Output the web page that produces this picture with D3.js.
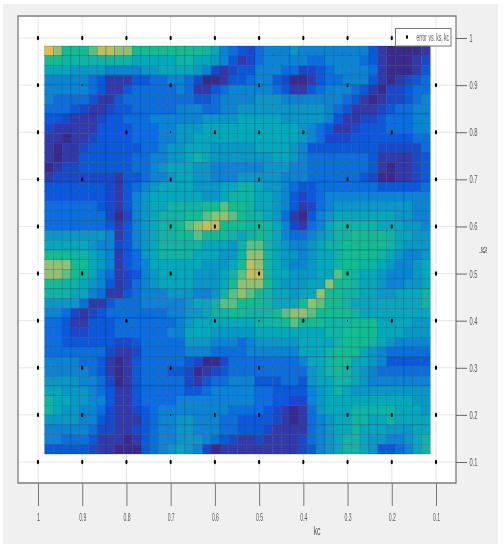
<!DOCTYPE html>
<html><head><meta charset="utf-8">
<script src="https://cdn.jsdelivr.net/npm/d3@7/dist/d3.min.js"></script>
<style>html,body{margin:0;padding:0;background:#fff;overflow:hidden}svg{display:block;filter:blur(.35px)}text{font-family:"Liberation Sans",Arial,sans-serif;fill:#555}</style>
</head><body><svg id="c" width="503" height="550"></svg>
<script>
const kcTicks=[1,0.9,0.8,0.7,0.6,0.5,0.4,0.3,0.2,0.1];
const ksTicks=[1,0.9,0.8,0.7,0.6,0.5,0.4,0.3,0.2,0.1];
const kcLabels=["1","0.9","0.8","0.7","0.6","0.5","0.4","0.3","0.2","0.1"];
const ksLabels=["1","0.9","0.8","0.7","0.6","0.5","0.4","0.3","0.2","0.1"];
// error level per cell, top row first, left column first
const errorGrid=[
[13,11,9,9,9,10,12,12,11,11,9,9,9,9,9,9,9,9,8,7,5,4,3,2,4,5,5,5,6,5,5,5,5,5,5,5,5,3,1,0,0,0,0,1],
[9,9,8,8,8,8,8,8,8,8,7,7,7,7,7,8,8,7,7,6,5,3,1,2,4,5,5,5,5,5,4,4,5,5,5,5,4,3,1,0,0,0,1,2],
[7,7,7,6,6,6,6,5,5,5,5,6,6,7,7,7,7,6,5,2,1,2,3,3,5,5,5,4,4,2,2,3,4,5,5,5,5,4,1,0,0,0,1,3],
[5,5,5,5,5,4,3,1,1,1,3,3,4,4,5,5,4,2,0,0,1,3,3,4,5,5,3,2,0,0,1,3,4,4,5,5,5,3,1,0,1,2,3,4],
[5,5,5,5,5,4,3,1,1,3,4,4,4,4,4,5,4,1,1,3,4,5,5,5,5,5,4,3,1,1,3,4,5,5,5,4,3,1,0,2,2,3,4,4],
[5,4,4,4,4,3,1,1,3,4,4,4,4,4,4,4,4,3,3,4,5,5,5,5,6,6,6,5,5,5,5,5,5,5,4,3,1,0,1,2,2,3,4,5],
[4,4,4,3,2,1,1,2,3,3,4,4,4,4,4,5,5,5,4,4,5,5,6,6,6,6,6,6,6,6,6,6,5,4,3,1,1,1,2,3,4,4,5,5],
[3,3,2,1,1,1,2,3,3,4,4,4,5,5,5,5,5,5,6,6,6,6,7,7,7,7,7,6,6,6,6,6,5,3,1,1,2,2,3,4,4,4,5,5],
[2,1,1,1,1,1,3,3,3,3,4,4,4,5,5,6,6,6,7,7,7,7,7,7,7,7,7,7,7,6,5,4,3,1,1,2,3,3,3,4,4,4,5,5],
[1,1,0,1,1,2,3,3,3,3,4,4,4,5,5,6,6,7,7,7,7,7,7,7,7,7,7,7,7,6,5,4,2,2,2,3,3,3,3,3,3,3,4,4],
[1,0,1,1,2,3,3,3,3,3,3,4,4,5,6,6,7,7,7,6,6,6,6,6,7,7,7,7,6,5,3,3,3,3,3,3,3,3,2,2,2,2,2,4],
[1,0,1,1,3,3,3,3,3,3,4,4,5,5,6,6,7,8,7,6,6,6,6,6,6,6,7,7,6,5,4,4,4,4,4,4,4,3,1,1,1,1,2,3],
[0,1,2,2,3,3,3,3,3,3,4,4,5,6,7,7,7,6,6,5,5,5,5,5,5,6,6,6,5,5,4,4,4,4,4,4,4,3,1,0,1,1,2,3],
[1,2,2,2,2,2,2,2,1,3,3,4,5,5,6,7,7,6,6,5,5,5,6,6,6,6,6,5,5,5,4,4,4,4,4,4,3,2,0,0,1,1,2,3],
[3,3,3,3,3,3,3,2,1,3,4,5,6,7,7,7,7,6,6,6,7,7,8,8,7,6,6,5,4,3,3,4,4,4,4,4,4,4,3,3,3,3,3,4],
[3,3,3,3,3,3,3,2,1,3,5,6,7,7,7,7,7,7,6,6,7,8,8,8,7,7,6,5,3,2,3,4,5,5,5,5,5,5,5,5,5,5,5,5],
[4,4,4,4,4,4,3,2,1,3,5,6,7,7,8,8,8,8,9,9,10,9,9,8,7,7,6,5,3,1,2,4,5,6,6,6,6,6,6,6,6,6,5,5],
[4,4,4,4,4,4,4,2,0,2,5,6,7,8,8,8,9,9,10,11,11,10,9,8,8,7,6,4,1,0,3,5,6,7,7,7,7,7,7,7,6,6,5,5],
[4,4,4,4,4,4,4,3,1,3,5,6,7,8,8,9,10,11,12,12,9,9,9,8,9,8,7,5,2,1,4,5,7,8,8,8,8,8,7,7,7,6,6,5],
[6,6,6,6,6,6,6,5,1,3,5,6,7,8,8,9,9,10,9,9,9,8,7,8,9,8,7,5,4,4,5,6,7,8,8,9,9,9,9,8,7,7,6,6],
[7,7,7,7,7,6,5,5,2,3,5,6,7,8,8,8,8,8,7,7,7,6,8,10,10,8,7,6,5,5,6,7,8,8,9,9,9,9,9,8,7,6,6,6],
[9,9,9,8,8,7,6,5,1,3,4,6,7,8,8,8,8,7,7,7,6,6,8,11,11,8,7,6,6,5,6,7,7,8,9,9,9,9,8,7,6,5,5,6],
[11,11,11,9,9,7,6,5,1,3,4,5,7,7,7,7,7,7,6,6,6,7,9,12,11,8,7,6,5,5,6,7,7,8,9,9,8,8,7,6,5,5,6,7],
[11,11,10,9,8,7,5,4,1,2,3,5,6,7,7,7,7,6,6,6,7,8,10,12,12,8,7,7,6,6,6,7,7,10,9,8,7,7,6,5,5,5,6,7],
[9,9,8,8,7,6,5,3,1,2,4,5,6,7,7,7,7,6,6,6,7,9,11,11,11,9,7,6,6,6,7,7,11,9,9,8,7,7,6,5,5,6,6,7],
[8,8,8,7,7,5,4,1,1,3,4,5,5,5,6,6,6,5,5,6,8,10,11,10,9,8,7,7,6,7,7,11,9,9,8,8,7,7,6,6,7,7,7,8],
[6,6,6,6,4,1,1,3,4,4,4,5,5,5,5,5,6,7,7,8,10,10,9,9,9,8,7,7,7,9,11,10,9,9,8,7,7,7,7,7,7,7,7,8],
[5,5,4,2,1,2,3,4,4,4,4,4,4,4,5,5,6,6,7,8,8,9,9,8,8,8,9,10,11,11,10,9,9,9,9,8,7,7,7,7,7,7,7,7],
[4,4,3,1,1,3,3,3,4,4,4,4,4,4,4,5,6,7,7,7,7,7,7,7,8,8,8,9,10,9,9,9,8,8,8,9,9,9,7,7,7,7,6,6],
[4,4,3,2,2,3,3,3,4,4,4,4,4,4,5,5,7,7,7,6,6,6,6,6,7,7,7,7,7,7,7,7,8,8,9,9,9,9,7,7,7,6,6,6],
[4,4,3,3,3,3,3,3,2,2,3,4,4,4,4,4,6,6,6,5,5,5,4,5,6,6,6,6,6,7,7,7,7,8,9,9,9,8,7,6,5,5,5,5],
[4,4,4,4,4,4,4,2,1,1,2,4,4,4,4,4,5,5,5,4,4,4,4,5,5,5,5,5,5,7,7,7,8,9,9,9,7,6,5,4,4,4,4,4],
[5,5,5,5,4,4,3,1,0,1,3,4,4,4,4,4,3,2,0,0,2,4,4,4,4,4,4,4,4,5,7,7,8,9,9,7,7,6,5,3,3,3,3,3],
[5,5,5,5,5,4,3,1,0,1,3,4,4,4,3,3,2,0,1,2,3,4,4,4,4,4,4,4,4,4,6,7,8,9,8,7,6,5,4,4,4,4,4,4],
[6,6,6,6,5,5,4,2,0,1,3,4,4,4,4,4,2,1,3,4,4,5,5,5,3,3,3,4,4,3,6,7,7,8,8,7,6,5,5,5,5,5,5,5],
[7,7,6,6,6,5,4,3,1,1,3,4,4,4,4,4,3,3,4,5,5,5,5,5,4,4,3,3,3,3,5,6,7,8,7,6,6,6,6,6,6,6,6,6],
[8,7,7,6,6,5,5,3,1,1,3,4,4,4,4,5,5,5,5,5,5,5,5,5,4,4,3,3,2,2,5,6,7,7,7,7,7,7,7,7,7,7,6,6],
[8,7,6,6,5,5,4,2,1,1,2,3,4,5,5,5,5,5,5,5,5,4,4,4,4,3,2,1,0,1,4,6,7,7,7,8,8,8,8,8,7,7,7,6],
[6,6,6,6,5,5,3,2,1,1,1,3,4,5,5,6,6,5,5,5,4,4,3,3,3,3,2,1,0,1,4,5,6,7,7,8,8,7,7,8,7,7,7,7],
[5,5,5,5,5,4,2,2,1,1,2,3,4,5,5,6,6,5,5,5,4,4,3,3,3,2,1,1,1,1,4,5,6,7,7,8,7,7,7,6,6,6,7,7],
[5,5,4,4,4,3,1,1,1,0,1,3,4,5,5,6,6,6,5,4,3,2,1,1,2,1,1,1,1,2,4,5,6,7,8,8,7,6,6,5,5,6,7,8],
[3,3,3,3,3,2,1,1,0,0,0,3,4,5,6,7,6,5,2,0,1,1,1,1,1,1,1,1,1,2,3,5,6,7,8,8,7,6,3,3,4,5,7,8]
];
const colorLevels=[0,1,2,3,4,5,6,7,8,9,10,11,12,13];
const colorStops=["#3a2a8e","#3338ab","#1a48cc","#0a58dc","#0a6ee0","#0a84d4","#0898c8","#04a8bc","#10b4a4","#10bc90","#58c080","#90c070","#c0bd5c","#e4bd40"];
const markerPoints=[
[1,1],[.9,1],[.8,1],[.7,1],[.6,1],[.5,1],[.4,1],[.3,1],[.2,1],
[1,.9],[.7,.9],[.5,.9],[.3,.9],[.1,.9],
[1,.8],[.8,.8],[.6,.8],[.5,.8],[.4,.8],[.2,.8],[.1,.8],
[1,.7],[.9,.7],[.7,.7],[.5,.7],[.3,.7],[.1,.7],
[1,.6],[.7,.6],[.6,.6],[.5,.6],[.3,.6],[.2,.6],[.1,.6],
[1,.5],[.9,.5],[.7,.5],[.5,.5],[.3,.5],[.1,.5],
[1,.4],[.8,.4],[.6,.4],[.4,.4],[.2,.4],[.1,.4],
[1,.3],[.9,.3],[.7,.3],[.5,.3],[.3,.3],[.1,.3],
[1,.2],[.9,.2],[.6,.2],[.5,.2],[.3,.2],[.2,.2],[.1,.2],
[1,.1],[.9,.1],[.8,.1],[.7,.1],[.6,.1],[.5,.1],[.4,.1],[.3,.1],[.2,.1],[.1,.1]];
const faintPoints=[[.9,.9],[.7,.8],[.5,.4],[.3,.4],[.7,.2]];
const xLabel="kc",yLabel="ks",legendLabel="error vs. ks, kc";

const svg=d3.select("#c");
svg.append("rect").attr("x",3).attr("y",4).attr("width",495).attr("height",540).attr("fill","#f0f0f0");
const box={l:18,t:16,r:456,b:483};
svg.append("rect").attr("x",box.l).attr("y",box.t).attr("width",box.r-box.l).attr("height",box.b-box.t).attr("fill","#fff");
const x=d3.scaleLinear().domain([1,0.1]).range([38,436]);
const y=d3.scaleLinear().domain([1,0.1]).range([38,462]);
// grid
svg.append("g").selectAll("line").data(kcTicks).join("line").attr("x1",d=>x(d)).attr("x2",d=>x(d)).attr("y1",box.t).attr("y2",box.b).attr("stroke","#e6e6e6");
svg.append("g").selectAll("line").data(ksTicks).join("line").attr("y1",d=>y(d)).attr("y2",d=>y(d)).attr("x1",box.l).attr("x2",box.r).attr("stroke","#e6e6e6");
// cells
const color=d3.scaleLinear().domain(colorLevels).range(colorStops);
const colX=d3.scaleBand().domain(d3.range(errorGrid[0].length)).range([x(0.985),x(0.113)]);
const rowY=d3.scaleBand().domain(d3.range(errorGrid.length)).range([y(0.983),y(0.117)]);
const cells=svg.append("g");
errorGrid.forEach((row,r)=>row.forEach((v,c)=>{
  cells.append("rect").attr("x",colX(c)).attr("y",rowY(r)).attr("width",colX.bandwidth()).attr("height",rowY.bandwidth())
   .attr("fill",color(v)).attr("stroke","#002a48").attr("stroke-opacity",.45).attr("stroke-width",.5);
}));
// markers
const mk=(g,pts,rx,ry)=>g.selectAll("ellipse").data(pts).join("ellipse").attr("cx",d=>x(d[0])).attr("cy",d=>y(d[1])).attr("rx",rx).attr("ry",ry).attr("fill","#000");
const mg=svg.append("g");mk(mg.append("g"),markerPoints,1.1,2.2);mk(mg.append("g"),faintPoints,.6,.9);
// box
svg.append("path").attr("d",`M${box.l},${box.b}V${box.t}H${box.r}V${box.b}Z`).attr("fill","none").attr("stroke","#7d7d7d").attr("stroke-width",1.3);
// axes
const squeeze=(sel,w)=>sel.attr("textLength",w).attr("lengthAdjust","spacingAndGlyphs");
const ax=svg.append("g").attr("transform",`translate(0,${box.b})`).call(d3.axisBottom(x).tickValues(kcTicks).tickSize(23).tickPadding(7).tickFormat((d,i)=>kcLabels[i]));
ax.select(".domain").remove();ax.selectAll("line").attr("stroke","#777");
ax.selectAll("text").attr("font-size",11).attr("fill","#666").each(function(d,i){squeeze(d3.select(this),kcLabels[i].length>1?7:3)});
const ay=svg.append("g").attr("transform",`translate(${box.r},0)`).call(d3.axisRight(y).tickValues(ksTicks).tickSize(11).tickPadding(2.5).tickFormat((d,i)=>ksLabels[i]));
ay.select(".domain").remove();ay.selectAll("line").attr("stroke","#666");
ay.selectAll("text").attr("font-size",11).attr("fill","#666").each(function(d,i){squeeze(d3.select(this),ksLabels[i].length>1?8:3)});
squeeze(svg.append("text").attr("x",317).attr("y",535).attr("text-anchor","middle").attr("font-size",12).text(xLabel),7);
squeeze(svg.append("text").attr("transform","translate(487,250) rotate(-90)").attr("text-anchor","middle").attr("font-size",10).text(yLabel),7);
// legend
const lg=svg.append("g");
lg.append("rect").attr("x",395.5).attr("y",28.5).attr("width",55.5).attr("height",17.5).attr("fill","#fff").attr("stroke","#777");
lg.append("ellipse").attr("cx",407).attr("cy",37).attr("rx",1.1).attr("ry",2).attr("fill","#000");
lg.append("text").attr("transform","translate(416.5,41) scale(0.5,1)").attr("font-size",10).attr("fill","#333").text(legendLabel);
</script></body></html>
